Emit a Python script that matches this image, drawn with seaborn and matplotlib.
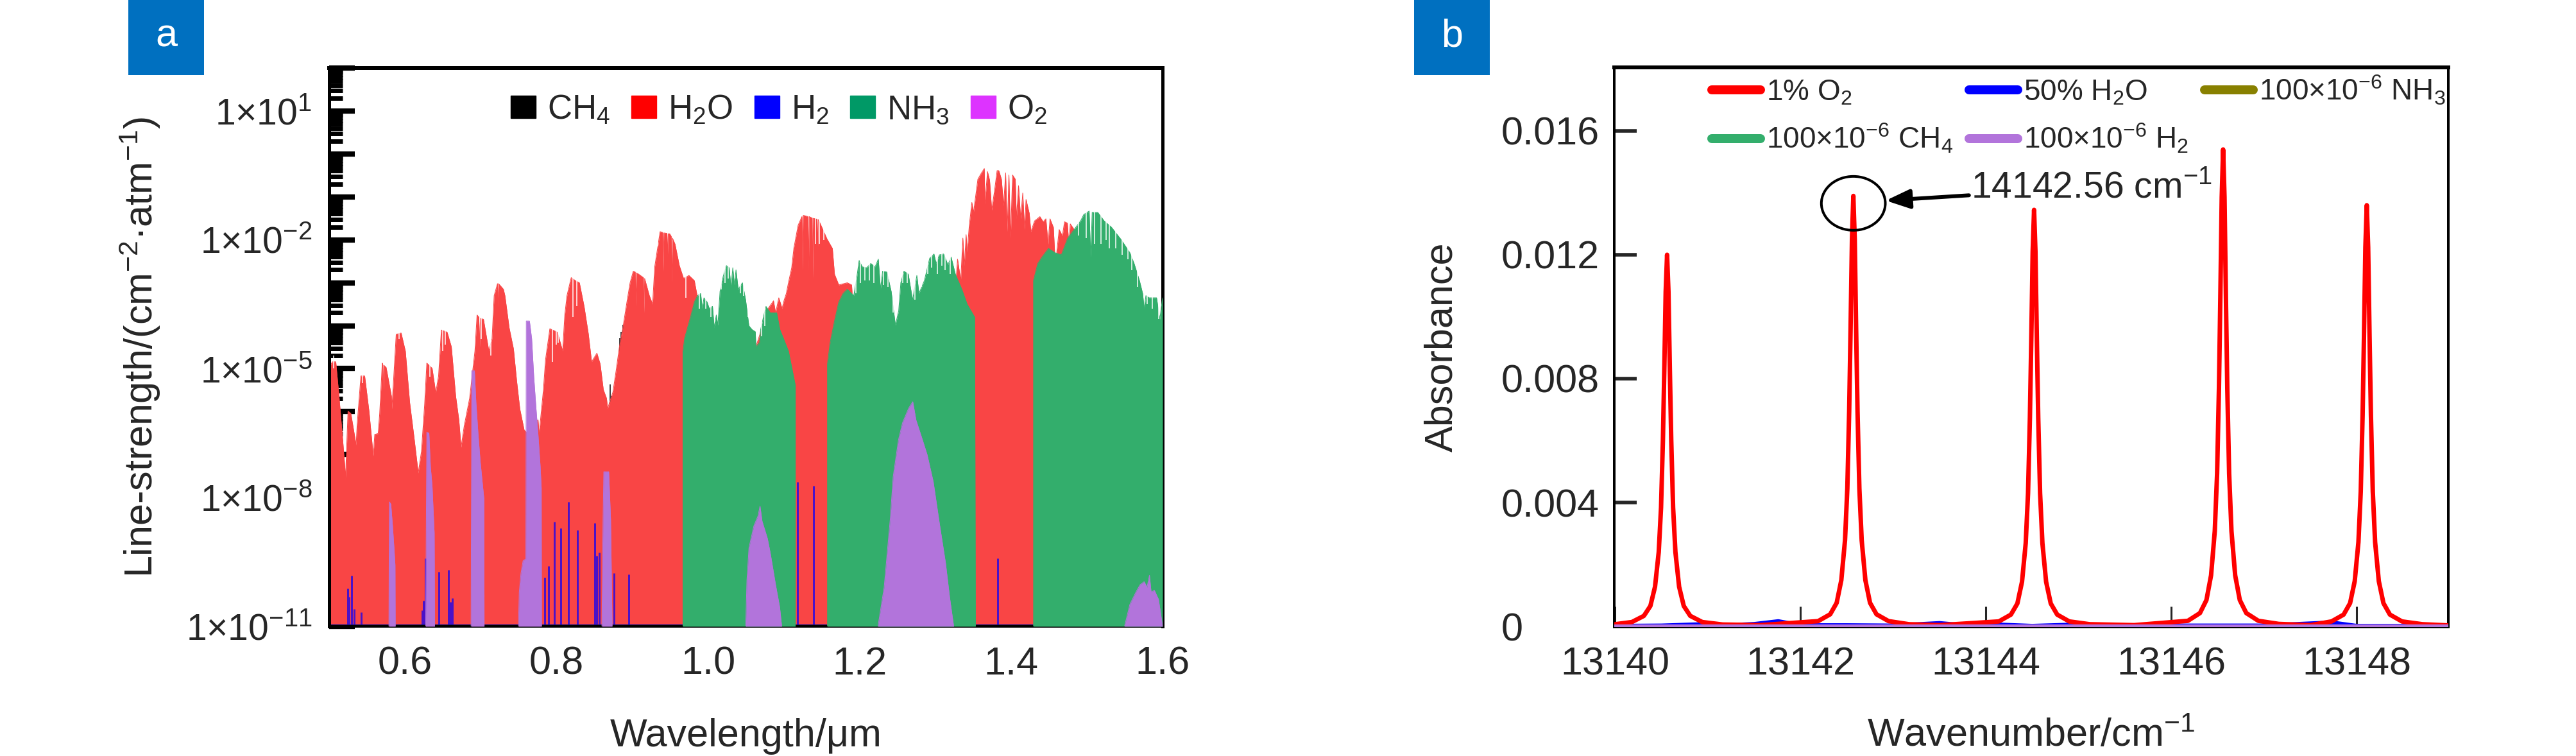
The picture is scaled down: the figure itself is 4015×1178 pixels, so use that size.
import matplotlib
matplotlib.use("Agg")
import matplotlib.pyplot as plt
from matplotlib.patches import Patch, Ellipse, Rectangle
from matplotlib.lines import Line2D
from matplotlib.ticker import LogLocator, NullFormatter, FixedLocator
import numpy as np
import seaborn as sns

# ---------- panel a: wavelength (um) and log10 line strength ----------
CH4_W = [.8712, .8726, .8836, .8853, .8876, .8901]
CH4_L = [-5.36, -5.64, -4.29, -4.14, -3.97, -4.19]

H2O_W = [.5000, .5046, .5088, .5130, .5173, .5207, .5215, .5249, .5286, .5328, .5356, .5370, .5419, .5469, .5526,
         .5582, .5602, .5647, .5667, .5701, .5708, .5715, .5722, .5752, .5822, .5828, .5885, .5950, .6006, .6063,
         .6119, .6176, .6218, .6260, .6289, .6359, .6407, .6444, .6481, .6557, .6613, .6670, .6712, .6741, .6783,
         .6854, .6924, .6952, .6976, .6986, .6996, .7037, .7108, .7150, .7178, .7222, .7229, .7236, .7300, .7320,
         .7376, .7433, .7475, .7517, .7574, .7616, .7757, .7771, .7828, .7856, .7913, .8012, .8082, .8110, .8139,
         .8195, .8250, .8303, .8365, .8421, .8464, .8534, .8577, .8619, .8661, .8675, .8746, .8788, .8831, .8873,
         .8930, .8972, .9014, .9040, .9048, .9056, .9085, .9148, .9156, .9164, .9226, .9269, .9297, .9368, .9402,
         .9410, .9418, .9458, .9466, .9474, .9495, .9515, .9523, .9531, .9565, .9622, .9678, .9749, .9820, .9862,
         1.0088, 1.0540, 1.0794, 1.0865, 1.0893, 1.0935, 1.0978, 1.1006, 1.1034, 1.1062, 1.1105, 1.1133, 1.1190,
         1.1240, 1.1248, 1.1256, 1.1260, 1.1320, 1.1328, 1.1336, 1.1359, 1.1375, 1.1383, 1.1391, 1.1440, 1.1448,
         1.1456, 1.1458, 1.1571, 1.1642, 1.1670, 1.1726, 1.1839, 1.1896, 1.1910, 1.2235, 1.3000, 1.3252, 1.3294,
         1.3336, 1.3364, 1.3384, 1.3407, 1.3421, 1.3449, 1.3483, 1.3505, 1.3562, 1.3604, 1.3647, 1.3655, 1.3689,
         1.3717, 1.3745, 1.3782, 1.3816, 1.3839, 1.3873, 1.3901, 1.3929, 1.3949, 1.3972, 1.3994, 1.4020, 1.4056,
         1.4071, 1.4099, 1.4127, 1.4155, 1.4178, 1.4198, 1.4240, 1.4262, 1.4311, 1.4381, 1.4424, 1.4460, 1.4489,
         1.4514, 1.4559, 1.4585, 1.4635, 1.4678, 1.4706, 1.4743, 1.4763, 1.4782, 1.4833, 1.4876, 1.5483, 1.6000]
H2O_L = [-4.95, -4.84, -4.84, -5.64, -6.53, -7.28, -7.58, -5.99, -6.04, -6.48, -6.78, -6.29, -5.17, -5.17, -5.99,
         -7.03, -6.53, -6.51, -6.04, -4.87, -4.90, -5.54, -4.92, -4.97, -5.64, -5.94, -4.20, -4.17, -4.59, -5.79,
         -6.58, -7.43, -6.93, -5.84, -4.87, -4.99, -5.56, -5.17, -4.10, -4.15, -4.49, -5.64, -6.19, -6.83, -6.33,
         -5.69, -4.59, -3.75, -3.80, -4.49, -3.83, -3.85, -4.59, -4.30, -3.30, -3.02, -3.55, -3.02, -3.15, -3.30,
         -4.05, -4.54, -5.29, -5.94, -6.43, -6.50, -6.19, -6.53, -5.49, -4.79, -4.07, -4.15, -4.59, -3.75, -3.30,
         -2.88, -2.95, -3.00, -3.55, -4.19, -4.84, -4.64, -4.89, -5.49, -5.69, -5.93, -5.54, -5.04, -4.49, -4.09,
         -3.45, -3.00, -2.73, -2.75, -3.55, -2.77, -2.80, -2.88, -3.70, -2.90, -3.30, -3.50, -2.63, -1.81, -1.83,
         -2.73, -1.84, -1.85, -2.40, -1.86, -1.86, -1.92, -3.00, -1.96, -2.10, -2.60, -2.90, -2.83, -2.95, -3.35,
         -5.00, -5.00, -3.60, -3.42, -3.70, -3.35, -3.60, -3.40, -3.25, -3.00, -2.65, -2.20, -1.66,
         -1.46, -2.70, -1.44, -1.43, -1.46, -2.70, -1.46, -1.48, -1.49, -2.90, -1.50, -1.52, -2.20,
         -1.53, -1.53, -1.98, -2.20, -2.80, -3.05, -3.00, -3.05, -3.45, -4.40, -4.00, -3.50, -2.45,
         -2.95, -1.96, -2.60, -1.88, -2.30, -1.66, -1.13, -1.36, -0.59, -0.46, -0.34, -1.16, -0.41,
         -0.61, -1.31, -0.86, -0.39, -0.39, -0.59, -1.21, -0.44, -1.81, -0.49, -1.96, -0.49, -0.59,
         -1.51, -0.74, -1.51, -0.91, -1.76, -1.06, -1.38, -1.81, -1.56, -1.46, -1.58, -1.51, -2.10,
         -1.51, -1.71, -2.60, -1.76, -1.91, -1.58, -1.61, -2.10, -1.63, -1.76, -3.00, -4.50, -6.00]

# Thin gaps between the densest lines: position, lowest reach, highest reach
H2O_GAP_W = [.5060, .5441, .5921, .6331, .6500, .6529, .7009, .7136, .7947, .7997, .8026, .8218, .8266, .9339, .9608, .9707,
             1.1416, 1.1472, 1.1529]
H2O_GAP_LOW = [-5.00, -5.34, -4.30, -5.19, -4.59, -4.44, -4.30, -4.69, -4.84, -4.44, -4.39, -3.80, -3.55, -2.15, -2.35, -3.35,
               -2.10, -2.10, -2.00]
H2O_GAP_TOP = [-4.70, -5.00, -4.10, -4.80, -4.00, -4.00, -3.70, -4.20, -4.00, -4.00, -4.00, -2.70, -2.80, -1.70, -2.20, -2.70,
               -1.40, -1.50, -1.60]

NH3_W1 = [.9670, .9670, .9692, .9777, .9820, .9862, .9904, .9924, .9947, .9989, 1.0017, 1.0060, 1.0082, 1.0110, 1.0130,
          1.0159, 1.0201, 1.0243, 1.0280, 1.0303, 1.0328, 1.0348, 1.0370, 1.0399, 1.0455, 1.0497, 1.0540, 1.0582,
          1.0625, 1.0633, 1.0681, 1.0695, 1.0738, 1.0766, 1.0822, 1.0907, 1.0949, 1.1006, 1.1062, 1.1119, 1.1153, 1.1153]
NH3_L1 = [-11, -4.59, -4.29, -3.75, -3.45, -3.30, -3.25, -3.60, -3.35, -3.45, -3.60, -3.55, -4.04, -3.75, -3.99,
          -3.20, -2.85, -2.60, -2.65, -3.10, -2.65, -3.05, -2.70, -3.15, -3.00, -3.40, -4.00, -4.09,
          -4.14, -4.49, -4.39, -4.09, -3.75, -3.55, -3.70, -3.70, -4.09, -4.34, -4.59, -5.09, -5.39, -11]
NH3_W2 = [1.1577, 1.1577, 1.1613, 1.1670, 1.1726, 1.1783, 1.1839, 1.1924, 1.1966, 1.1995, 1.2037, 1.2094, 1.2149, 1.2206,
          1.2248, 1.2277, 1.2305, 1.2361, 1.2418, 1.2474, 1.2517, 1.2545, 1.2587, 1.2644, 1.2700, 1.2757, 1.2785,
          1.2856, 1.2926, 1.2983, 1.3011, 1.3054, 1.3110, 1.3167, 1.3209, 1.3265, 1.3350, 1.3421, 1.3520, 1.3530]
NH3_L2 = [-11, -4.89, -4.39, -3.89, -3.45, -3.25, -3.15, -3.30, -2.85, -2.48, -2.63, -2.65, -2.55, -2.63,
          -2.45, -3.15, -2.73, -2.75, -3.20, -3.99, -3.65, -3.00, -2.73, -2.80, -3.40, -2.83, -3.25,
          -2.95, -2.43, -2.33, -2.55, -2.35, -2.33, -2.58, -2.40, -2.80, -3.15, -3.50, -3.80, -11]
NH3_W3 = [1.4296, 1.4296, 1.4353, 1.4409, 1.4494, 1.4579, 1.4664, 1.4748, 1.4833, 1.4918, 1.4960, 1.5031, 1.5051, 1.5071,
          1.5144, 1.5229, 1.5327, 1.5455, 1.5568, 1.5624, 1.5695, 1.5737, 1.5757, 1.5780, 1.5822, 1.5921, 1.5963, 1.6000, 1.6000]
NH3_L3 = [-11, -2.95, -2.55, -2.40, -2.20, -2.30, -2.35, -1.96, -1.76, -1.56, -1.41, -1.33, -2.40, -1.36,
          -1.36, -1.56, -1.71, -2.00, -2.30, -2.55, -2.95, -3.25, -3.60, -3.30, -3.35, -3.35, -3.85, -3.35, -11]
NH3_GAP_W = [.9890, .9969, 1.0037, 1.0178, 1.0224, 1.0266, 1.0427, 1.0469, 1.0526, 1.0704, 1.0752,
             1.1952, 1.2015, 1.2071, 1.2127, 1.2192, 1.2313, 1.2375, 1.2446, 1.2573, 1.2630, 1.2729, 1.2813,
             1.2898, 1.2955, 1.3025, 1.3087, 1.3133, 1.3195, 1.4890, 1.4989, 1.5101, 1.5186, 1.5257, 1.5299,
             1.5384, 1.5469, 1.5539, 1.5596, 1.5666, 1.5794, 1.5864, 1.5949]
NH3_GAP_LOW = [-3.60, -3.60, -3.80, -3.15, -3.00, -2.90, -3.25, -3.30, -3.80, -4.24, -4.00,
               -3.25, -3.00, -2.95, -2.95, -3.00, -3.05, -3.10, -3.70, -3.00, -3.00, -3.40, -3.10,
               -2.80, -2.65, -2.80, -2.60, -2.70, -2.80, -1.90, -1.96, -2.10, -2.10, -2.00, -2.20,
               -2.20, -2.35, -2.45, -2.70, -3.10, -3.50, -3.60, -3.85]
NH3_GAP_TOP = [-3.10, -3.30, -3.40, -2.80, -2.50, -2.50, -2.90, -2.90, -3.30, -3.90, -3.50,
               -2.80, -2.40, -2.50, -2.40, -2.40, -2.50, -2.60, -3.00, -2.60, -2.60, -2.70, -2.80,
               -2.40, -2.20, -2.30, -2.20, -2.30, -2.30, -1.40, -1.20, -1.20, -1.30, -1.50, -1.50,
               -1.70, -1.90, -2.10, -2.20, -2.60, -3.20, -3.20, -3.30]

O2_BANDS_W = [[.5789, .5794, .5814, .5837, .5856, .5870, .5873],
              [.6274, .6289, .6317, .6337, .6359, .6387, .6393],
              [.6873, .6882, .6918, .6938, .6966, .6995, .7023, .7043, .7046],
              [.7498, .7509, .7531, .7560, .7588, .7596, .7602, .7644, .7673, .7701, .7729, .7757, .7786, .7800, .7803],
              [.8600, .8615, .8625, .8690, .8715, .8735],
              [1.0498, 1.0514, 1.0541, 1.0606, 1.0660, 1.0687, 1.0714, 1.0784, 1.0822, 1.0892, 1.0946, 1.0973],
              [1.2244, 1.2325, 1.2406, 1.2444, 1.2514, 1.2568, 1.2649, 1.2703, 1.2746, 1.2811, 1.2892, 1.2973, 1.3054, 1.3135, 1.3189, 1.3243],
              [1.5498, 1.5568, 1.5649, 1.5703, 1.5757, 1.5795, 1.5827, 1.5849, 1.5892, 1.5946, 1.6000]]
O2_BANDS_L = [[-11, -8.10, -8.15, -8.67, -9.17, -9.57, -11],
              [-11, -6.48, -6.50, -7.28, -7.73, -8.82, -11],
              [-11, -5.05, -5.05, -5.79, -6.53, -7.18, -7.68, -8.03, -11],
              [-11, -10.21, -9.77, -9.47, -9.44, -9.44, -3.89, -3.89, -4.30, -5.19, -5.89, -6.53, -7.28, -7.78, -11],
              [-11, -8.50, -7.40, -7.40, -8.50, -11],
              [-11, -9.92, -9.17, -8.66, -8.43, -8.20, -8.55, -8.95, -9.29, -10.03, -10.55, -11],
              [-11, -10.09, -8.49, -7.52, -6.66, -6.26, -5.92, -5.77, -6.20, -6.55, -7.00, -7.63, -8.60, -9.52, -10.32, -11],
              [-11, -10.49, -10.20, -10.03, -9.96, -10.09, -9.81, -10.20, -10.16, -10.37, -11]]

H2_W = [.5243, .5260, .5294, .5334, .5421, .6226, .6246, .6274, .6444, .6574, .6597, .6625, .7848, .7899, .7969, .8054,
        .8159, .8280, .8508, .8534, .8568, .8763, .8958, 1.1179, 1.1395, 1.3827]
H2_L = [-10.12, -10.32, -9.82, -10.59, -10.67, -10.62, -10.40, -9.41, -9.73, -9.69, -10.43, -10.35, -9.87, -9.60, -8.56, -8.71,
        -8.10, -8.76, -8.59, -9.35, -9.28, -9.76, -9.79, -7.64, -7.73, -9.42]
H2_BASE_START = [0.5, 1.1155, 1.3535]
H2_BASE_END = [0.967, 1.1575, 1.4295]

A_XTICKS = [0.6, 0.8, 1.0, 1.2, 1.4, 1.6]
A_YTICKS = [1e1, 1e-2, 1e-5, 1e-8, 1e-11]
A_YLABELS = ['1×10$^{1}$', '1×10$^{-2}$', '1×10$^{-5}$', '1×10$^{-8}$', '1×10$^{-11}$']

# ---------- panel b: wavenumber (cm-1) and absorbance ----------
O2_X = [13140.00, 13140.18, 13140.31, 13140.38, 13140.43, 13140.47, 13140.495, 13140.515, 13140.53, 13140.545, 13140.56,
        13140.575, 13140.59, 13140.605, 13140.625, 13140.65, 13140.69, 13140.74, 13140.81, 13140.94, 13141.16, 13141.56,
        13142.19, 13142.32, 13142.39, 13142.44, 13142.48, 13142.505, 13142.525, 13142.54, 13142.555, 13142.57,
        13142.585, 13142.60, 13142.615, 13142.635, 13142.66, 13142.70, 13142.75, 13142.82, 13142.95, 13143.17, 13143.50,
        13144.14, 13144.27, 13144.34, 13144.39, 13144.43, 13144.455, 13144.475, 13144.49, 13144.505, 13144.52,
        13144.535, 13144.55, 13144.565, 13144.585, 13144.61, 13144.65, 13144.70, 13144.77, 13144.90, 13145.12, 13145.60,
        13146.18, 13146.31, 13146.38, 13146.43, 13146.47, 13146.495, 13146.515, 13146.53, 13146.545, 13146.56,
        13146.575, 13146.59, 13146.605, 13146.625, 13146.65, 13146.69, 13146.74, 13146.81, 13146.94, 13147.16, 13147.50,
        13147.73, 13147.86, 13147.93, 13147.98, 13148.02, 13148.045, 13148.065, 13148.08, 13148.095, 13148.11,
        13148.125, 13148.14, 13148.155, 13148.175, 13148.20, 13148.24, 13148.29, 13148.36, 13148.49, 13148.71, 13149.00]
O2_Y = [.00007, .00014, .00034, .00066, .00128, .0024, .00384, .0060, .00828, .0108, .0120,
        .0108, .00828, .0060, .00384, .0024, .00128, .00066, .00034, .00014, .00006, .00004,
        .00017, .00039, .00076, .00149, .00278, .00445, .00695, .0096, .0125, .0139,
        .0125, .0096, .00695, .00445, .00278, .00149, .00076, .00039, .00017, .00007, .00004,
        .00016, .00038, .00074, .00144, .00269, .0043, .00673, .00928, .0121, .01345,
        .0121, .00928, .00673, .0043, .00269, .00144, .00074, .00038, .00016, .00007, .00004,
        .00018, .00043, .00085, .00165, .00308, .00493, .0077, .01063, .01386, .0154,
        .01386, .01063, .0077, .00493, .00308, .00165, .00085, .00043, .00018, .00008, .00004,
        .00016, .00038, .00075, .00146, .00272, .00435, .0068, .00938, .01224, .0136,
        .01224, .00938, .0068, .00435, .00272, .00146, .00075, .00038, .00016, .00007, .00003]
H2O_X = [13140.0, 13140.5, 13140.9, 13141.2, 13141.5, 13141.76, 13142.0, 13142.5, 13143.0, 13143.5, 13143.8, 13144.15,
         13144.5, 13145.05, 13145.4, 13146.0, 13147.0, 13147.73, 13148.0, 13148.5, 13149.0]
H2O_Y = [.00001, .00002, .00006, .00003, .00007, .00016, .00003, .00003, .00002, .0001, .00002, .00005,
         .00001, .00006, .00002, .00002, .00002, .00012, .00001, .00001, .00001]
FLAT_X = [13140.0, 13149.0]
NH3_Y = [0.0, 0.0]
CH4_Y = [0.0, 0.0]
H2_Y = [0.0, 0.0]
B_XTICKS = [13140, 13142, 13144, 13146, 13148]
B_YTICKS = [0, 0.004, 0.008, 0.012, 0.016]
B_YLABELS = ['0', '0.004', '0.008', '0.012', '0.016']

# ---------- style ----------
sns.set_style('ticks')
FONT = ['Liberation Sans', 'DejaVu Sans']
plt.rcParams['font.family'] = FONT
plt.rcParams['mathtext.fontset'] = 'custom'
plt.rcParams['mathtext.rm'] = 'Liberation Sans'
plt.rcParams['mathtext.default'] = 'regular'
plt.rcParams['axes.unicode_minus'] = True

W, H, DPI = 4016, 1178, 100
PX = 72 / DPI
RED, GREEN, PURPLE = '#F94545', '#33AE6C', '#B274DB'
fig = plt.figure(figsize=(W / DPI, H / DPI), dpi=DPI, facecolor='white')


def make_axes(l, r, t, b):
    return fig.add_axes([l / W, 1 - b / H, (r - l) / W, (b - t) / H])


def band(ax, w, logs, color, z):
    s = 10.0 ** np.asarray(logs, float)
    ax.fill_between(w, 1e-11, s, color=color, lw=0, zorder=z)
    sns.lineplot(x=w, y=s, ax=ax, color=color, lw=1 * PX, estimator=None, sort=False, zorder=z, legend=False)


def gaps(ax, w, low, top, z):
    ax.vlines(w, 10.0 ** np.asarray(low, float), 10.0 ** np.asarray(top, float),
              color='white', alpha=0.75, lw=2 * PX, zorder=z)


# ---------- panel a ----------
axa = make_axes(513, 1812, 106, 976)
axa.set_axisbelow(True)
axa.set_yscale('log')
axa.vlines(CH4_W, 1e-11, 10.0 ** np.asarray(CH4_L), color='#444444', lw=2 * PX, zorder=1.5)
band(axa, H2O_W, H2O_L, RED, 2)
gaps(axa, H2O_GAP_W, H2O_GAP_LOW, H2O_GAP_TOP, 2.1)
axa.vlines(H2_W, 1e-11, 10.0 ** np.asarray(H2_L), color='#4A12C8', lw=3 * PX, zorder=2.5)
axa.hlines([1e-11] * 3, H2_BASE_START, H2_BASE_END, color='#14107A', lw=6 * PX, zorder=2.5)
band(axa, NH3_W1, NH3_L1, GREEN, 3)
band(axa, NH3_W2, NH3_L2, GREEN, 3)
band(axa, NH3_W3, NH3_L3, GREEN, 3)
gaps(axa, NH3_GAP_W, NH3_GAP_LOW, NH3_GAP_TOP, 3.1)
for bw, bl in zip(O2_BANDS_W, O2_BANDS_L):
    band(axa, bw, bl, PURPLE, 4)
axa.set_xlim(0.5, 1.6)
axa.set_ylim(1e-11, 1e2)
axa.xaxis.set_major_locator(FixedLocator(A_XTICKS))
axa.set_xticklabels([f'{v:.1f}' for v in A_XTICKS])
axa.yaxis.set_minor_locator(LogLocator(base=10, numticks=30, subs=tuple(range(2, 10))))
axa.yaxis.set_minor_formatter(NullFormatter())
axa.set_yticks(10.0 ** np.arange(-11, 3))
axa.set_yticklabels([A_YLABELS[A_YTICKS.index(v)] if v in A_YTICKS else '' for v in [float(f'1e{e}') for e in range(-11, 3)]])
axa.tick_params(axis='y', which='major', direction='in', length=29, width=6, labelsize=41, pad=19, color='black')
axa.tick_params(axis='y', which='minor', direction='in', length=15, width=5, color='black')
axa.tick_params(axis='x', which='major', direction='in', length=16, width=3, labelsize=44, pad=22)
for side, lw in dict(left=5, right=5, top=6, bottom=4).items():
    axa.spines[side].set_linewidth(lw * PX * 1.0)
    axa.spines[side].set_color('black')
axa.set_xlabel('Wavelength/μm', fontsize=44, va='center')
axa.xaxis.set_label_coords(0.5, (976 - 1147) / 870)
axa.set_ylabel('Line-strength/(cm$^{-2}$·atm$^{-1}$)', fontsize=44, va='center')
axa.yaxis.set_label_coords((218 - 513) / 1299, 0.5)
h_a = [Patch(color='black'), Patch(color='#FF0000'), Patch(color='#0000FF'), Patch(color='#009966'), Patch(color='#DD33FF')]
axa.legend(h_a, ['CH$_4$', 'H$_2$O', 'H$_2$', 'NH$_3$', 'O$_2$'], ncol=5, frameon=False, fontsize=38,
           loc='upper left', bbox_to_anchor=((796 - 513) / 1299, (976 - 146) / 870), borderpad=0, borderaxespad=0,
           handlelength=0.74, handleheight=0.64, handletextpad=0.34, columnspacing=0.63)

# ---------- panel b ----------
axb = make_axes(2516, 3816, 105, 977)
sns.lineplot(x=H2O_X, y=H2O_Y, ax=axb, color='#0000FF', lw=7 * PX, estimator=None, sort=False, zorder=2, legend=False)
sns.lineplot(x=O2_X, y=O2_Y, ax=axb, color='#FF0000', lw=7 * PX, estimator=None, sort=False, zorder=3, legend=False)
sns.lineplot(x=FLAT_X, y=NH3_Y, ax=axb, color='#888000', lw=7 * PX, estimator=None, sort=False, zorder=4, legend=False)
sns.lineplot(x=FLAT_X, y=CH4_Y, ax=axb, color=GREEN, lw=7 * PX, estimator=None, sort=False, zorder=4, legend=False)
sns.lineplot(x=FLAT_X, y=H2_Y, ax=axb, color=PURPLE, lw=7 * PX, estimator=None, sort=False, zorder=5, legend=False)
axb.set_xlim(13139.99, 13148.99)
axb.set_ylim(-0.00002, 0.01805)
axb.set_xticks(B_XTICKS)
axb.set_xticklabels([str(v) for v in B_XTICKS])
axb.set_yticks(B_YTICKS)
axb.set_yticklabels(B_YLABELS)
axb.tick_params(axis='y', direction='in', length=25, width=4, labelsize=44, pad=127)
for t in axb.get_yticklabels():
    t.set_horizontalalignment('left')
axb.tick_params(axis='x', direction='in', length=23, width=2.2, labelsize=44, pad=22)
for side, lw in dict(left=4, right=4, top=6, bottom=4).items():
    axb.spines[side].set_linewidth(lw * PX)
    axb.spines[side].set_color('black')
axb.set_xlabel('Wavenumber/cm$^{-1}$', fontsize=44, va='center')
axb.xaxis.set_label_coords(0.5, (977 - 1147) / 872)
axb.set_ylabel('Absorbance', fontsize=44, va='center')
axb.yaxis.set_label_coords((2248 - 2516) / 1300, 0.5)
h_b = [Line2D([], [], color=c, lw=14 * PX, solid_capstyle='round') for c in ['#FF0000', GREEN, '#0000FF', PURPLE, '#888000']]
axb.legend(h_b, ['1% O$_2$', '100×10$^{-6}$ CH$_4$', '50% H$_2$O', '100×10$^{-6}$ H$_2$', '100×10$^{-6}$ NH$_3$'],
           ncol=3, frameon=False, fontsize=33, loc='upper left',
           bbox_to_anchor=((2668 - 2516) / 1300, (977 - 115) / 872), borderpad=0, borderaxespad=0,
           handlelength=1.65, handletextpad=0.2, columnspacing=0.55, labelspacing=0.52)
axb.add_patch(Ellipse((13142.57, 0.01366), 0.69, 0.00174, fill=False, ec='black', lw=4 * PX, zorder=6))
axb.annotate('14142.56 cm$^{-1}$', xy=(13142.92, 0.01375), xytext=(13143.84, 0.01417),
             fontsize=41, va='center', ha='left',
             arrowprops=dict(arrowstyle='-|>,head_length=0.55,head_width=0.22', color='black', lw=6 * PX, shrinkA=0, shrinkB=0))

# ---------- panel tags ----------
for x0, tag in [(200, 'a'), (2204, 'b')]:
    fig.patches.append(Rectangle((x0 / W, 1 - 117 / H), 118 / W, 117 / H, transform=fig.transFigure, color='#0070C0', lw=0))
    fig.text((x0 + 59) / W, 1 - 57 / H, tag, color='white', fontsize=44, ha='center', va='center')

fig.savefig('out.png', dpi=DPI)
